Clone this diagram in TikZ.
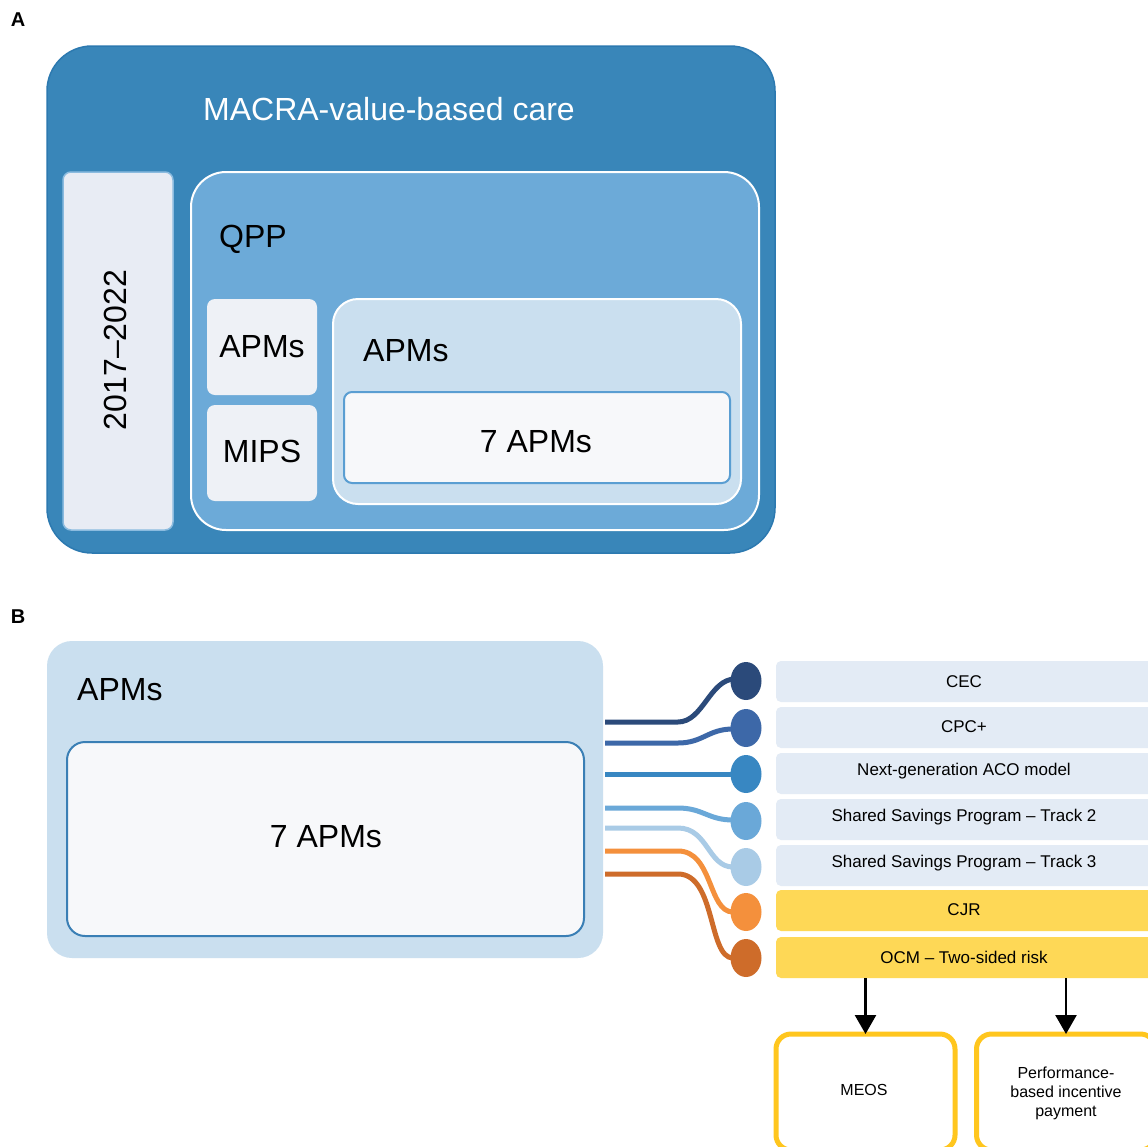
\documentclass[tikz,border=0pt]{standalone}
\usepackage{fontspec}
\setmainfont{Liberation Sans}
\usetikzlibrary{shapes.geometric,arrows.meta}
\newcommand\fbig{\fontsize{32}{38}\selectfont}
\newcommand\fmed{\fontsize{17}{20}\selectfont}
\newcommand\fsml{\fontsize{16}{19}\selectfont}
\newcommand\flab{\fontsize{20}{24}\selectfont\bfseries}
\definecolor{outerA}{RGB}{57,134,185}
\definecolor{outerAb}{RGB}{44,121,176}
\definecolor{qppfill}{RGB}{108,170,216}
\definecolor{apmfill}{RGB}{202,223,239}
\definecolor{yearfill}{RGB}{232,236,244}
\definecolor{smallfill}{RGB}{238,241,246}
\definecolor{sevenfill}{RGB}{247,248,250}
\definecolor{sevenb}{RGB}{90,158,210}
\definecolor{sevenbB}{RGB}{58,127,181}
\definecolor{listfill}{RGB}{227,235,245}
\definecolor{yelfill}{RGB}{254,216,86}
\definecolor{yelline}{RGB}{255,198,30}
\definecolor{cA}{RGB}{43,74,122}
\definecolor{cB}{RGB}{61,104,168}
\definecolor{cC}{RGB}{56,135,194}
\definecolor{cD}{RGB}{106,168,216}
\definecolor{cE}{RGB}{169,203,230}
\definecolor{cF}{RGB}{244,144,60}
\definecolor{cG}{RGB}{206,108,42}
\begin{document}
\begin{tikzpicture}[x=1pt,y=-1pt,
  box/.style={rectangle,inner sep=0pt,outer sep=0pt},
  txt/.style={inner sep=0pt,font=\fbig,text=black},
  listbox/.style={box,rounded corners=5pt,fill=listfill,minimum width=384pt,minimum height=41pt},
  yelbox/.style={box,rounded corners=5pt,fill=yelfill,minimum width=384pt,minimum height=41pt},
  listtxt/.style={inner sep=0pt,font=\fmed,text=black},
  dot/.style={ellipse,inner sep=0pt,outer sep=0pt,minimum width=31pt,minimum height=38pt},
  conn/.style={line width=5pt},
  arr/.style={line width=2.5pt,-{Triangle[width=21pt,length=19pt]}},
  outbox/.style={box,rounded corners=15pt,draw=yelline,line width=5pt,fill=white,minimum width=179pt,minimum height=116pt}
]
\clip (0,0) rectangle (1148,1146);
\fill[white] (0,0) rectangle (1148,1146);

% ---------------- Panel A ----------------
\node[inner sep=0pt,font=\flab] (labA) at (18,20) {A};
\node[box,rounded corners=45pt,fill=outerA,draw=outerAb,line width=1.5pt,minimum width=728pt,minimum height=507pt] (outer) at (411,299.5) {};
\node[txt,text=white] (title) at (389,109) {MACRA-value-based care};
\node[box,rounded corners=8pt,fill=yearfill,draw=sevenb!70,line width=1.5pt,minimum width=110pt,minimum height=358pt] (years) at (118,351) {};
\node[txt,rotate=90] (yearst) at (115,350) {2017–2022};
\node[box,rounded corners=35pt,fill=qppfill,draw=white,line width=2pt,minimum width=568pt,minimum height=358pt] (qpp) at (475,351) {};
\node[txt,anchor=west] (qppt) at (219,239) {QPP};
\node[box,rounded corners=8pt,fill=smallfill,minimum width=110pt,minimum height=96pt] (apmsS) at (262,347) {};
\node[txt] (apmsSt) at (262,347) {APMs};
\node[box,rounded corners=8pt,fill=smallfill,minimum width=110pt,minimum height=96pt] (mips) at (262,453) {};
\node[txt] (mipst) at (262,451) {MIPS};
\node[box,rounded corners=25pt,fill=apmfill,draw=white,line width=2pt,minimum width=408pt,minimum height=205pt] (apmsL) at (537,401.5) {};
\node[txt,anchor=west] (apmsLt) at (363,351) {APMs};
\node[box,rounded corners=8pt,fill=sevenfill,draw=sevenb,line width=2pt,minimum width=386pt,minimum height=91pt] (seven) at (537,437.5) {};
\node[txt] (sevent) at (536,442) {7 APMs};

% ---------------- Panel B ----------------
\node[inner sep=0pt,font=\flab] (labB) at (18,617) {B};
\node[box,rounded corners=25pt,fill=apmfill,minimum width=556pt,minimum height=317pt] (bigB) at (325,799.5) {};
\node[txt,anchor=west] (bigBt) at (77,690) {APMs};
\node[box,rounded corners=18pt,fill=sevenfill,draw=sevenbB,line width=2pt,minimum width=517pt,minimum height=194pt] (sevenB) at (325.5,839) {};
\node[txt] (sevenBt) at (326,837) {7 APMs};

% list boxes
\node[listbox] (b1) at (968,681.5) {};
\node[listbox] (b2) at (968,727.5) {};
\node[listbox] (b3) at (968,773.5) {};
\node[listbox] (b4) at (968,819.5) {};
\node[listbox] (b5) at (968,865.5) {};
\node[yelbox] (b6) at (968,910.5) {};
\node[yelbox] (b7) at (968,957.5) {};
\node[listtxt] (t1) at (964,682) {CEC};
\node[listtxt] (t2) at (964,727) {CPC+};
\node[listtxt] (t3) at (964,771) {Next-generation ACO model};
\node[listtxt] (t4) at (964,817) {Shared Savings Program – Track 2};
\node[listtxt] (t5) at (964,863) {Shared Savings Program – Track 3};
\node[listtxt] (t6) at (964,910) {CJR};
\node[listtxt] (t7) at (964,957) {OCM – Two-sided risk};

% start points
\coordinate (s1) at (605,722);
\coordinate (s2) at (605,743);
\coordinate (s3) at (605,774);
\coordinate (s4) at (605,808);
\coordinate (s5) at (605,828);
\coordinate (s6) at (605,851);
\coordinate (s7) at (605,874);

% dots
\node[dot] (c1) at (746,681) {};
\node[dot] (c2) at (746,728) {};
\node[dot] (c3) at (746,774) {};
\node[dot] (c4) at (746,821) {};
\node[dot] (c5) at (746,867) {};
\node[dot] (c6) at (746,912) {};
\node[dot] (c7) at (746,958) {};

\draw[conn,cA] (s1) -- ++(73,0) .. controls +(25,0) and +(-25,0) .. ([yshift=2pt]c1.center -| 735,0);
\draw[conn,cA] ([yshift=2pt]c1.center -| 733,0) -- (c1.center);
\draw[conn,cB] (s2) -- ++(73,0) .. controls +(25,0) and +(-25,0) .. ([yshift=-1pt]c2.center -| 733,0) -- (c2.center);
\draw[conn,cC] (s3) -- (c3.center);
\draw[conn,cD] (s4) -- ++(73,0) .. controls +(25,0) and +(-25,0) .. ([yshift=1pt]c4.center -| 733,0) -- (c4.center);
\draw[conn,cE] (s5) -- ++(73,0) .. controls +(30,0) and +(-25,0) .. (c5.center -| 733,0) -- (c5.center);
\draw[conn,cF] (s6) -- ++(73,0) .. controls +(35,0) and +(-25,0) .. (c6.center -| 733,0) -- (c6.center);
\draw[conn,cG] (s7) -- ++(73,0) .. controls +(38,0) and +(-25,0) .. (c7.center -| 733,0) -- (c7.center);

\fill[cA] (c1.center) ellipse [x radius=15.5pt,y radius=19pt];
\fill[cB] (c2.center) ellipse [x radius=15.5pt,y radius=19pt];
\fill[cC] (c3.center) ellipse [x radius=15.5pt,y radius=19pt];
\fill[cD] (c4.center) ellipse [x radius=15.5pt,y radius=19pt];
\fill[cE] (c5.center) ellipse [x radius=15.5pt,y radius=19pt];
\fill[cF] (c6.center) ellipse [x radius=15.5pt,y radius=19pt];
\fill[cG] (c7.center) ellipse [x radius=15.5pt,y radius=19pt];

% output boxes
\node[outbox] (meos) at (865.5,1092) {};
\node[listtxt,font=\fsml] (meost) at (864,1090) {MEOS};
\node[outbox] (perf) at (1066,1092) {};
\node[listtxt,font=\fsml,align=center] (perft) at (1066,1093) {Performance-\\based incentive\\payment};

\draw[arr] (b7.south -| meos.north) -- (meos.north);
\draw[arr] (b7.south -| perf.north) -- (perf.north);
\end{tikzpicture}
\end{document}
